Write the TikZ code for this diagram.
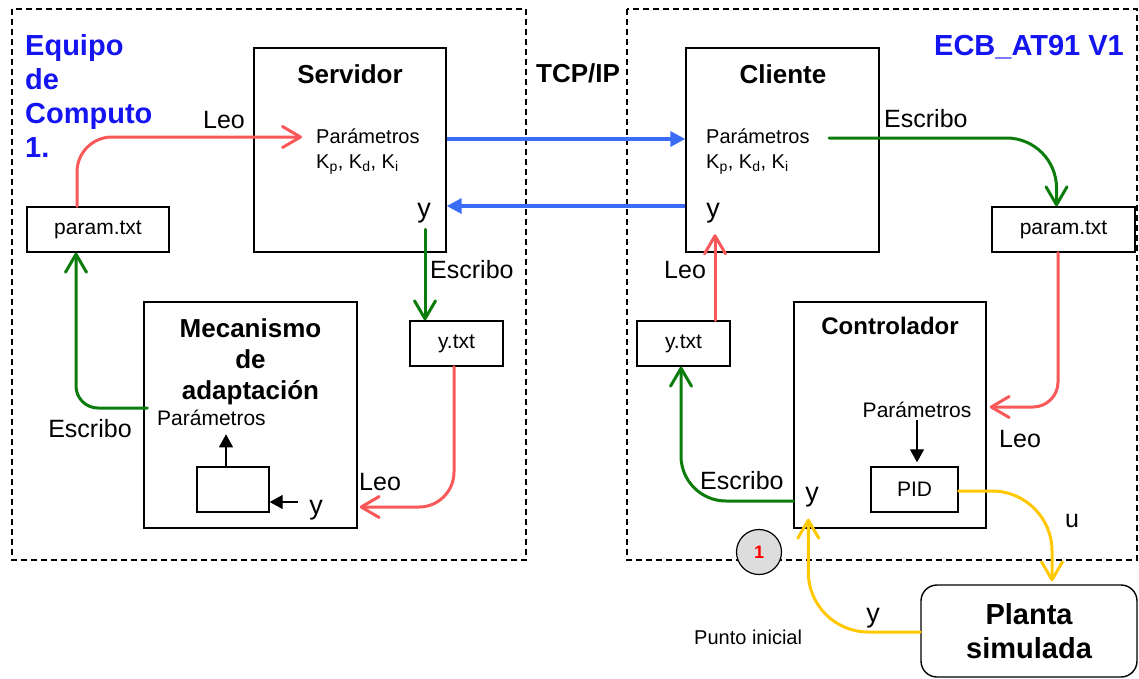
\documentclass[tikz,border=0pt]{standalone}
\usepackage{fontspec}
\setmainfont{Liberation Sans}
\usetikzlibrary{arrows.meta,calc}
\definecolor{lnred}{RGB}{248,88,88}
\definecolor{lngreen}{RGB}{12,125,12}
\definecolor{lnblue}{RGB}{59,108,246}
\definecolor{lnyellow}{RGB}{255,200,0}
\definecolor{ttlblue}{RGB}{20,20,240}
\definecolor{dotgray}{RGB}{221,221,221}
\begin{document}
\begin{tikzpicture}[x=1pt,y=-1pt,
  box/.style={draw,line width=1.4pt,inner sep=0pt},
  txt/.style={inner sep=0pt},
  f20/.style={font=\fontsize{20}{25}\selectfont},
  f21/.style={font=\fontsize{21}{25}\selectfont},
  f25/.style={font=\fontsize{25}{30}\selectfont},
  f27/.style={font=\fontsize{27}{30}\selectfont},
  hd/.style={font=\fontsize{26}{31}\selectfont\bfseries},
  big/.style={font=\fontsize{29}{34}\selectfont\bfseries},
  flow/.style={line width=3pt,line cap=round,line join=round,
    -{Straight Barb[length=18pt,width=21pt,line cap=round,line join=round]}},
  rd/.style={flow,draw=lnred},
  gr/.style={flow,draw=lngreen},
  yl/.style={flow,draw=lnyellow},
  bl/.style={line width=3.5pt,draw=lnblue,-{Triangle[length=15pt,width=15pt]}},
  blk/.style={line width=1.3pt,-{Triangle[length=13pt,width=14pt]}},
  frame/.style={line width=1.4pt,dash pattern=on 6pt off 4pt}]
\useasboundingbox (0,0) rectangle (1139,678);

% the two computers
\draw[frame] (12,9) rectangle (526,560);
\draw[frame] (627,9) rectangle (1137,560);
\node[txt,big,text=ttlblue,align=left,anchor=north west] (eq) at (25,34) {Equipo\\de\\Computo\\1.};
\node[txt,big,text=ttlblue,anchor=base east] (ecb) at (1124,55) {ECB\_AT91 V1};
\node[txt,hd,anchor=base] (tcp) at (578,82) {TCP/IP};

% server side
\node[box,minimum width=192pt,minimum height=204pt] (srv) at (350,150) {};
\node[txt,hd,anchor=base] (srvt) at (350,83) {Servidor};
\node[txt,f20,anchor=base west] (srvpar) at (316,143) {Parámetros};
\node[txt,f20,anchor=base west] (srvk) at (316,168) {K\textsubscript{p}, K\textsubscript{d}, K\textsubscript{i}};
\node[txt,f27,anchor=base] (srvy) at (424,217) {y};
\node[box,f21,minimum width=142pt,minimum height=45pt] (ptl) at (98,229.5) {param.txt};
\node[box,f21,minimum width=93pt,minimum height=45pt] (ytl) at (456.5,343.5) {y.txt};

\node[box,minimum width=213pt,minimum height=226pt] (mec) at (250.5,415) {};
\node[txt,hd,align=center,anchor=north] (mect) at (250.5,318) {Mecanismo\\de\\adaptación};
\node[txt,f21,anchor=base west] (mecpar) at (157,425) {Parámetros};
\node[box,minimum width=72pt,minimum height=45pt] (mecsmall) at (233,489.5) {};
\node[txt,f27,anchor=base] (mecy) at (316,514) {y};

% client side
\node[box,minimum width=193pt,minimum height=204pt] (cli) at (782.5,150) {};
\node[txt,hd,anchor=base] (clit) at (783,83) {Cliente};
\node[txt,f20,anchor=base west] (clipar) at (706,143) {Parámetros};
\node[txt,f20,anchor=base west] (clik) at (706,168) {K\textsubscript{p}, K\textsubscript{d}, K\textsubscript{i}};
\node[txt,f27,anchor=base] (cliy) at (713,217) {y};
\node[box,f21,minimum width=143pt,minimum height=45pt] (ptr) at (1063.5,229.5) {param.txt};
\node[box,f21,minimum width=93pt,minimum height=45pt] (ytr) at (683.5,343.5) {y.txt};

\node[box,minimum width=192pt,minimum height=226pt] (ctl) at (890,415) {};
\node[txt,font=\fontsize{24}{29}\selectfont\bfseries,anchor=base] (ctlt) at (890,334) {Controlador};
\node[txt,f21,anchor=base] (ctlpar) at (917,417) {Parámetros};
\node[box,f21,minimum width=87pt,minimum height=45pt] (pid) at (914.5,489.5) {PID};
\node[txt,f27,anchor=base] (ctly) at (812,501) {y};

\node[draw,line width=1.4pt,rounded corners=16pt,minimum width=216pt,minimum height=92pt,
      big,align=center,inner sep=0pt] (planta) at (1029,631) {Planta\\simulada};
\node[draw,line width=1.2pt,fill=dotgray,circle,minimum size=45pt,inner sep=0pt,
      text=red,font=\fontsize{18}{20}\selectfont\bfseries] (ini) at (759,552) {1};
\node[txt,f20,anchor=base west] (initxt) at (694,644) {Punto inicial};

% network link
\draw[bl] ($(srv.east)+(0,-11)$) -- ($(cli.west)+(0,-11)$);
\draw[bl] ($(cli.west)+(0,56)$) -- ($(srv.east)+(0,56)$);

% file exchange on the server computer
\draw[rd,rounded corners=35pt] ($(ptl.north)+(-21,0)$) |- ($(srvpar.base west)+(-14,-6)$);
\node[txt,f25,anchor=base] (leo1) at (224,128) {Leo};
\draw[gr] ($(ytl.north)+(-31.5,-91)$) -- ($(ytl.north)+(-31.5,0)$);
\node[txt,f25,anchor=base west] (esc1) at (430,278) {Escribo};
\draw[rd,rounded corners=35pt] ($(ytl.south)+(-2.5,0)$) |- ($(mec.east)+(2,92)$);
\node[txt,f25,anchor=base west] (leo2) at (359,490) {Leo};
\draw[gr,rounded corners=22pt] ($(mec.west)+(4,-7)$) -| ($(ptl.south)+(-22,0)$);
\node[txt,f25,anchor=base] (esc2) at (90,437) {Escribo};
\draw[blk] ($(mecsmall.north)+(-7,0)$) -- ($(mecsmall.north)+(-7,-32)$);
\draw[blk] ($(mecsmall.east)+(28,12.5)$) -- ($(mecsmall.east)+(0,12.5)$);

% file exchange on the board
\draw[gr,rounded corners=50pt] ($(clipar.base west)+(123,-5)$) -| ($(ptr.north)+(-7,0)$);
\node[txt,f25,anchor=base west] (esc3) at (884,127) {Escribo};
\draw[rd] ($(ytr.north)+(31.5,0)$) -- ($(ytr.north)+(31.5,-86)$);
\node[txt,f25,anchor=base west] (leo3) at (664,278) {Leo};
\draw[rd,rounded corners=25pt] ($(ptr.south)+(-5.5,0)$) |- ($(ctl.east)+(3,-8)$);
\node[txt,f25,anchor=base west] (leo4) at (999,447) {Leo};
\draw[blk] ($(ctlpar.base)+(0,3)$) -- ($(pid.north)+(2.5,-4)$);
\draw[gr,rounded corners=45pt] ($(ctl.west)+(0,86)$) -| ($(ytr.south)+(-2.5,0)$);
\node[txt,f25,anchor=base west] (esc4) at (700,489) {Escribo};

% control loop with the simulated plant
\draw[yl,rounded corners=60pt] ($(pid.east)+(0,1.5)$) -| ($(planta.north)+(23,-3)$);
\node[txt,f25,anchor=base] (ulbl) at (1072,527) {u};
\draw[yl,rounded corners=60pt] ($(planta.west)+(0,1)$) -| ($(ctl.south west)+(15,-10)$);
\node[txt,f27,anchor=base] (ylbl) at (873,622) {y};
\end{tikzpicture}
\end{document}
